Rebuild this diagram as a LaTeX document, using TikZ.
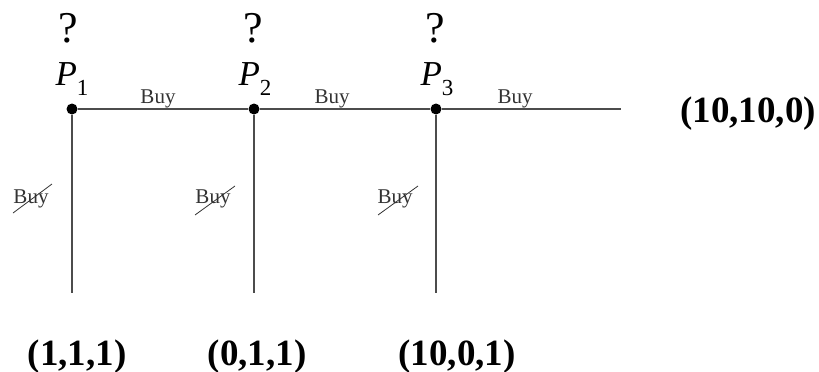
\documentclass[tikz,border=0pt]{standalone}
\usepackage{fontspec}
\setmainfont{Liberation Serif}
\begin{document}
\begin{tikzpicture}[x=1pt,y=-1pt,
  edge/.style={draw=black!70,line width=1.7pt},
  dot/.style={circle,fill=black,inner sep=0pt,minimum size=11pt},
  qmark/.style={font=\fontsize{44}{44}\selectfont,inner sep=0pt,anchor=base},
  plabel/.style={inner sep=0pt,anchor=base},
  act/.style={font=\fontsize{21}{21}\selectfont,text=black!80,inner sep=0pt,anchor=base},
  pay/.style={font=\fontsize{37}{37}\selectfont\bfseries,inner sep=0pt,anchor=base}]
\useasboundingbox (0,0) rectangle (819,372);
\newcommand{\pl}[1]{{\fontsize{35}{35}\selectfont\itshape P}\raisebox{-10pt}{\fontsize{23}{23}\selectfont #1}}
% decision nodes
\node[dot] (n1) at (72,109) {};
\node[dot] (n2) at (254,109) {};
\node[dot] (n3) at (436,109) {};
\coordinate (e) at (621,109);
\coordinate (b1) at (72,293);
\coordinate (b2) at (254,293);
\coordinate (b3) at (436,293);
\draw[edge] (n1) -- (n2) -- (n3) -- (e);
\draw[edge] (n1) -- (b1);
\draw[edge] (n2) -- (b2);
\draw[edge] (n3) -- (b3);
% labels
\node[qmark] (q1) at (68,42) {?};
\node[qmark] (q2) at (253,42) {?};
\node[qmark] (q3) at (435,42) {?};
\node[plabel] (p1) at (72,85) {\pl{1}};
\node[plabel] (p2) at (255,85) {\pl{2}};
\node[plabel] (p3) at (437,85) {\pl{3}};
\node[act] (a1) at (158,103) {Buy};
\node[act] (a2) at (332,103) {Buy};
\node[act] (a3) at (515,103) {Buy};
\node[act] (c1) at (31,203) {Buy};
\node[act] (c2) at (213,203) {Buy};
\node[act] (c3) at (395,203) {Buy};
\draw[black!80,line width=0.8pt] (13,213) -- (52,184);
\draw[black!80,line width=0.8pt] (195,215) -- (235,186);
\draw[black!80,line width=0.8pt] (378,215) -- (418,186);
% payoffs
\node[pay] (r1) at (77,365) {(1,1,1)};
\node[pay] (r2) at (257,365) {(0,1,1)};
\node[pay] (r3) at (457,365) {(10,0,1)};
\node[pay] (r4) at (748,122) {(10,10,0)};
\end{tikzpicture}
\end{document}
